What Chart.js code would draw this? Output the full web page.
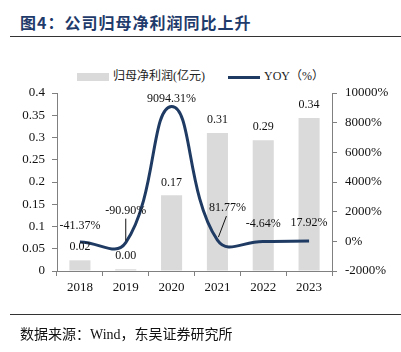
<!DOCTYPE html>
<html>
<head>
<meta charset="utf-8">
<script src="https://cdn.jsdelivr.net/npm/chart.js@4.4.1/dist/chart.umd.min.js"></script>
<style>
  body { margin: 0; background: #fff; }
  #wrap { position: relative; width: 401px; height: 352px; overflow: hidden; font-family: "Liberation Serif", "Noto Sans CJK SC", serif; }
  #title { position: absolute; left: 20px; top: 10px; font: bold 16px "Noto Sans CJK SC", sans-serif; color: #1f3b6b; letter-spacing: 1px; }
  .rule { position: absolute; left: 10px; width: 391px; height: 0; border-top: 1.5px solid #333; }
  #legend { position: absolute; top: 68px; left: 77px; font-size: 12px; color: #222; }
  .item { position: absolute; white-space: nowrap; top: 0; line-height: 16px; }
  .box { display: inline-block; width: 32px; height: 8px; background: #dadada; vertical-align: middle; margin-right: 4px; }
  .ln { display: inline-block; width: 32px; height: 3px; background: #1f3b63; vertical-align: middle; margin-right: 4px; }
  #footer { position: absolute; left: 20px; top: 323px; font-size: 14px; color: #111; }
  canvas { position: absolute; left: 0; top: 0; }
</style>
</head>
<body>
<div id="wrap">
  <div id="title">图4：公司归母净利润同比上升</div>
  <div class="rule" style="top:36px"></div>
  <div id="legend">
    <div class="item" style="left:0"><span class="box"></span>归母净利润(亿元)</div>
    <div class="item" style="left:151px"><span class="ln"></span>YOY（%）</div>
  </div>
  <canvas id="chart" width="401" height="352"></canvas>
  <div class="rule" style="top:314px"></div>
  <div id="footer">数据来源：Wind，东吴证券研究所</div>
</div>
<script>
// chart data
const years = ["2018", "2019", "2020", "2021", "2022", "2023"];
const netProfit = [0.024, 0.004, 0.17, 0.31, 0.294, 0.344];   // 亿元
const yoy = [-41.37, -90.90, 9094.31, 81.77, -4.64, 17.92];   // %
const leftTicks = [0, 0.05, 0.1, 0.15, 0.2, 0.25, 0.3, 0.35, 0.4];
const rightTicks = [-2000, 0, 2000, 4000, 6000, 8000, 10000];

const labelFont = '12px "Liberation Serif", serif';

// value labels + leader lines
const valueLabels = {
    id: 'valueLabels',
    afterDatasetsDraw(chart) {
        const ctx = chart.ctx;
        const barMeta = chart.getDatasetMeta(0);
        const lineMeta = chart.getDatasetMeta(1);
        ctx.save();
        ctx.font = labelFont;
        ctx.fillStyle = '#111';
        ctx.textAlign = 'center';
        ctx.textBaseline = 'middle';

        barMeta.data.forEach((bar, i) => {
            ctx.fillText(netProfit[i].toFixed(2), bar.x, bar.y - 13);
        });

        // how far above its point each yoy label sits
        const lift = [16, 32, 8, 32, 18, 18];
        const shiftX = [0, 0, 0, 10, 0, 0];
        lineMeta.data.forEach((pt, i) => {
            ctx.fillText(yoy[i].toFixed(2) + '%', pt.x + shiftX[i], pt.y - lift[i]);
        });

        // leader lines for 2019 and 2021
        ctx.strokeStyle = '#111';
        ctx.lineWidth = 1;
        const p19 = lineMeta.data[1];
        ctx.beginPath();
        ctx.moveTo(p19.x, p19.y - 24);
        ctx.lineTo(p19.x, p19.y - 2);
        ctx.stroke();
        const p21 = lineMeta.data[3];
        ctx.beginPath();
        ctx.moveTo(p21.x + 9, p21.y - 24);
        ctx.lineTo(p21.x + 1, p21.y - 3);
        ctx.stroke();
        ctx.restore();
    }
};

const axisColor = '#808080';

new Chart(document.getElementById('chart'), {
    data: {
        labels: years,
        datasets: [{
            type: 'bar',
            label: '归母净利润(亿元)',
            data: netProfit,
            yAxisID: 'y',
            backgroundColor: '#dadada',
            categoryPercentage: 1,
            barPercentage: 0.46,
            order: 2
        }, {
            type: 'line',
            label: 'YOY（%）',
            data: yoy,
            yAxisID: 'y1',
            borderColor: '#1f3b63',
            borderWidth: 3,
            pointRadius: 0,
            tension: 0.45,
            fill: false,
            order: 1
        }]
    },
    options: {
        responsive: false,
        animation: false,
        layout: { padding: { top: 93, bottom: 53, left: 0, right: 0 } },
        plugins: {
            legend: { display: false },
            tooltip: { enabled: false }
        },
        scales: {
            x: {
                offset: true,
                grid: { offset: true, drawOnChartArea: false, tickLength: 5, color: axisColor },
                border: { color: axisColor },
                ticks: { color: '#111', font: { family: 'Liberation Serif', size: 13 }, padding: 4 },
                afterFit: s => { s.height = 28; }
            },
            y: {
                position: 'left',
                min: 0,
                max: 0.4,
                afterBuildTicks: s => { s.ticks = leftTicks.map(v => ({ value: v })); },
                grid: { drawOnChartArea: false, tickLength: 5, color: axisColor },
                border: { color: axisColor },
                ticks: {
                    color: '#111',
                    font: { family: 'Liberation Serif', size: 13 },
                    padding: 7,
                    callback: v => String(Number(v.toFixed(2)))
                },
                afterFit: s => { s.width = 57; }
            },
            y1: {
                position: 'right',
                min: -2000,
                max: 10000,
                afterBuildTicks: s => { s.ticks = rightTicks.map(v => ({ value: v })); },
                grid: { drawOnChartArea: false, tickLength: 5, color: axisColor },
                border: { color: axisColor },
                ticks: {
                    color: '#111',
                    font: { family: 'Liberation Serif', size: 13 },
                    padding: 8,
                    callback: v => v + '%'
                },
                afterFit: s => { s.width = 69; }
            }
        }
    },
    plugins: [valueLabels]
});
</script>
</body>
</html>
